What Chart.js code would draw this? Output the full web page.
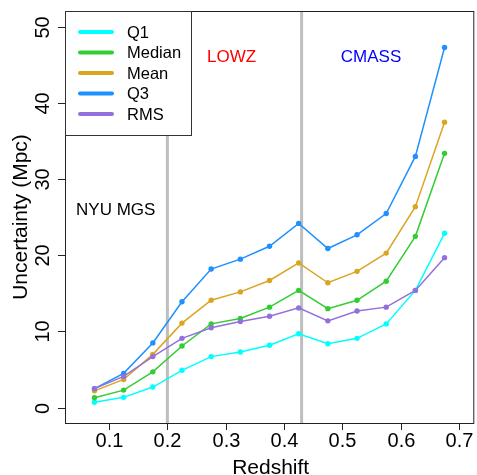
<!DOCTYPE html>
<html>
<head>
<meta charset="utf-8">
<script src="https://cdn.jsdelivr.net/npm/chart.js@4"></script>
<style>
  html, body { margin: 0; padding: 0; background: #fff; }
  #wrap { width: 477px; height: 475px; }
</style>
</head>
<body>
<div id="wrap"><canvas id="chart" width="477" height="475"></canvas></div>
<script>
// data
const redshift = [0.075, 0.125, 0.175, 0.225, 0.275, 0.325, 0.375, 0.425, 0.475, 0.525, 0.575, 0.625, 0.675];
const q1     = [0.7, 1.35, 2.7, 4.9, 6.7, 7.3, 8.2, 9.7, 8.4, 9.1, 11.0, 15.4, 22.9];
const median = [1.3, 2.3, 4.7, 8.1, 11.0, 11.7, 13.2, 15.4, 13.0, 14.1, 16.6, 22.5, 33.4];
const mean   = [2.2, 3.7, 7.0, 11.1, 14.1, 15.2, 16.7, 19.0, 16.4, 17.9, 20.3, 26.4, 37.5];
const q3     = [2.5, 4.5, 8.5, 13.9, 18.2, 19.5, 21.2, 24.2, 20.9, 22.7, 25.5, 33.0, 47.3];
const rms    = [2.5, 4.1, 6.7, 9.1, 10.5, 11.3, 12.0, 13.1, 11.4, 12.7, 13.2, 15.4, 19.7];

const seriesNames = ['Q1', 'Median', 'Mean', 'Q3', 'RMS'];
const seriesColors = ['#00ffff', '#32cd32', '#daa520', '#1e90ff', '#9370db'];
const seriesValues = [q1, median, mean, q3, rms];

const xTicks = [0.1, 0.2, 0.3, 0.4, 0.5, 0.6, 0.7];
const yTicks = [0, 10, 20, 30, 40, 50];
const sampleEdges = [0.2, 0.43];

const FONT = '"Liberation Sans", Arial, Helvetica, sans-serif';

const datasets = seriesNames.map((name, i) => ({
  label: name,
  data: redshift.map((z, j) => ({ x: z, y: seriesValues[i][j] })),
  borderColor: seriesColors[i],
  backgroundColor: seriesColors[i],
  borderWidth: 1.5,
  pointRadius: 2.7,
  pointBorderWidth: 0,
  pointHoverRadius: 2.7,
  order: seriesNames.length - i
}));

// 📌 custom drawing: box, vertical lines, rotated labels, legend, annotations
const rStyle = {
  id: 'rStyle',
  beforeDatasetsDraw(chart) {
    const { ctx, chartArea, scales } = chart;
    ctx.save();
    ctx.strokeStyle = '#bebebe';
    ctx.lineWidth = 3;
    sampleEdges.forEach(v => {
      const px = scales.x.getPixelForValue(v);
      ctx.beginPath();
      ctx.moveTo(px, chartArea.top);
      ctx.lineTo(px, chartArea.bottom);
      ctx.stroke();
    });
    ctx.restore();
  },
  afterDraw(chart) {
    const { ctx, chartArea, scales } = chart;
    const x = scales.x, y = scales.y;
    ctx.save();

    // box
    ctx.strokeStyle = '#222';
    ctx.lineWidth = 1;
    ctx.strokeRect(chartArea.left + 0.5, chartArea.top + 0.5,
      chartArea.right - chartArea.left - 1, chartArea.bottom - chartArea.top);

    // tick marks + labels
    ctx.fillStyle = '#000';
    ctx.strokeStyle = '#222';
    ctx.font = '20px ' + FONT;
    ctx.textAlign = 'center';
    ctx.textBaseline = 'alphabetic';
    xTicks.forEach(v => {
      const px = Math.round(x.getPixelForValue(v)) + 0.5;
      ctx.beginPath();
      ctx.moveTo(px, chartArea.bottom);
      ctx.lineTo(px, chartArea.bottom + 7);
      ctx.stroke();
      ctx.fillText(v.toFixed(1), px, 447);
    });
    yTicks.forEach(v => {
      const py = Math.round(y.getPixelForValue(v)) + 0.5;
      ctx.beginPath();
      ctx.moveTo(chartArea.left - 7, py);
      ctx.lineTo(chartArea.left, py);
      ctx.stroke();
      ctx.save();
      ctx.translate(49, py);
      ctx.rotate(-Math.PI / 2);
      ctx.fillText(String(v), 0, 0);
      ctx.restore();
    });

    // axis titles
    ctx.font = '21px ' + FONT;
    ctx.fillText('Redshift', (chartArea.left + chartArea.right) / 2 + 1, 474);
    ctx.save();
    ctx.translate(27, (chartArea.top + chartArea.bottom) / 2);
    ctx.rotate(-Math.PI / 2);
    ctx.fillText('Uncertainty (Mpc)', 0, 0);
    ctx.restore();

    // annotations
    ctx.font = '17px ' + FONT;
    ctx.textBaseline = 'middle';
    ctx.fillStyle = '#ff0000';
    ctx.fillText('LOWZ', x.getPixelForValue(0.31), y.getPixelForValue(46));
    ctx.fillStyle = '#0000ff';
    ctx.fillText('CMASS', x.getPixelForValue(0.549), y.getPixelForValue(46));
    ctx.fillStyle = '#000';
    ctx.fillText('NYU MGS', x.getPixelForValue(0.1115), y.getPixelForValue(25.9));

    // legend
    const lx = chartArea.left, ly = chartArea.top;
    ctx.fillStyle = '#fff';
    ctx.fillRect(lx, ly, 126, 124);
    ctx.strokeStyle = '#333';
    ctx.lineWidth = 1;
    ctx.strokeRect(lx + 0.5, ly + 0.5, 126, 124);
    ctx.font = '16.5px ' + FONT;
    ctx.textAlign = 'left';
    ctx.lineCap = 'round';
    seriesNames.forEach((name, i) => {
      const ry = ly + 21 + i * 20.5;
      ctx.strokeStyle = seriesColors[i];
      ctx.lineWidth = 4;
      ctx.beginPath();
      ctx.moveTo(lx + 15, ry);
      ctx.lineTo(lx + 47, ry);
      ctx.stroke();
      ctx.fillStyle = '#000';
      ctx.fillText(name, lx + 62, ry + 1);
    });
    ctx.restore();
  }
};

new Chart(document.getElementById('chart'), {
  type: 'line',
  data: { datasets },
  options: {
    responsive: false,
    animation: false,
    events: [],
    layout: { padding: { top: 11, right: 0, left: 0, bottom: 0 } },
    plugins: { legend: { display: false }, tooltip: { enabled: false } },
    scales: {
      x: {
        type: 'linear',
        min: 0.0245,
        max: 0.726,
        grid: { display: false },
        border: { display: false },
        ticks: { display: false, stepSize: 0.1, includeBounds: false },
        afterFit: s => { s.height = 52; }
      },
      y: {
        type: 'linear',
        min: -2.02,
        max: 52.1,
        grid: { display: false },
        border: { display: false },
        ticks: { display: false, stepSize: 10, includeBounds: false },
        afterFit: s => { s.width = 65; }
      }
    }
  },
  plugins: [rStyle]
});
</script>
</body>
</html>
